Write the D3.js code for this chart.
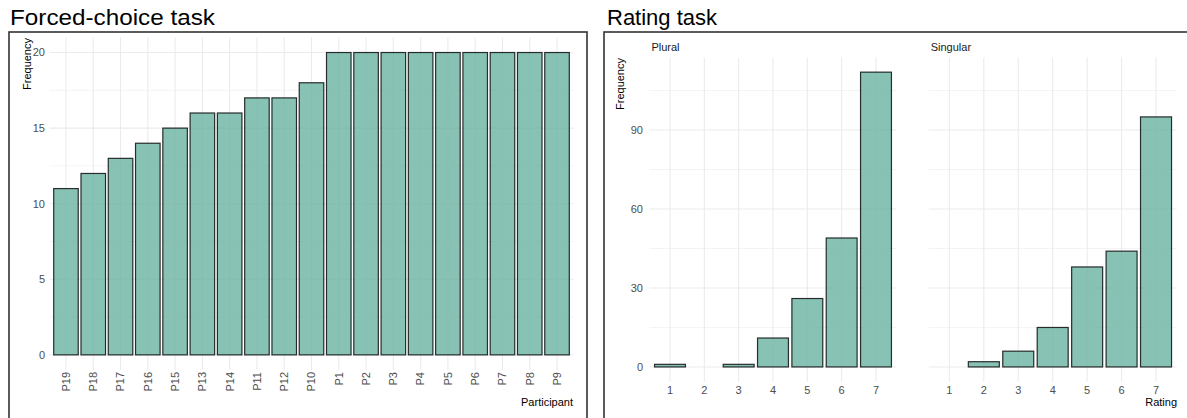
<!DOCTYPE html>
<html lang="en">
<head>
	<meta charset="UTF-8">
	<title>Forced-choice and rating task</title>
	<style>
		body{margin:0;background:#fff;}
		text{font-family:"Liberation Sans", Arial, sans-serif;}
		.grid line{stroke:#ebebeb;}
		.bar{fill:#69b3a2;fill-opacity:0.8;stroke:#000;stroke-opacity:0.8;stroke-width:1.2px;}
		.tick-lab{font-size:11px;fill:#4d4d4d;}
		.ax-title{font-size:11px;fill:#000;}
		.title{font-size:22px;fill:#000;}
		.strip{font-size:11px;fill:#1a1a1a;}
	</style>
</head>
<body>
<script src="https://d3js.org/d3.v7.min.js"></script>
<script>
	// forced-choice task
	var participants = ['P19','P18','P17','P16','P15','P13','P14','P11','P12','P10','P1','P2','P3','P4','P5','P6','P7','P8','P9'];
	var counts = [11,12,13,14,15,16,16,17,17,18,20,20,20,20,20,20,20,20,20];
	var fcTicks = [0,5,10,15,20];

	// rating task
	var ratings = [1,2,3,4,5,6,7];
	var plural = [1,0,1,11,26,49,112];
	var singular = [0,2,6,15,38,44,95];
	var facets = ['Plural','Singular'];
	var rtTicks = [0,30,60,90];

	var svg = d3.select('body').append('svg')
		.attr('width',1187)
		.attr('height',418);

	// frames + titles
	svg.append('rect').attr('x',9).attr('y',32).attr('width',578).attr('height',400)
		.attr('fill','none').attr('stroke','#333').attr('stroke-width',1.6);
	svg.append('rect').attr('x',604).attr('y',32).attr('width',600).attr('height',400)
		.attr('fill','none').attr('stroke','#333').attr('stroke-width',1.6);
	svg.append('text').attr('class','title').attr('x',10).attr('y',25)
		.attr('textLength',205).attr('lengthAdjust','spacingAndGlyphs').text('Forced-choice task');
	svg.append('text').attr('class','title').attr('x',607).attr('y',25).text('Rating task');

	// ---- left panel ----
	var x1 = d3.scalePoint().domain(participants).range([49.6,573.4]).padding(0.6);
	var y1 = d3.scaleLinear().domain([-1,21]).range([370,37.4]);
	var bw1 = x1.step()*0.9;

	var g1 = svg.append('g');
	var grid1 = g1.append('g').attr('class','grid');
	grid1.selectAll('.minor').data([2.5,7.5,12.5,17.5]).enter().append('line')
		.attr('x1',49.6).attr('x2',573.4).attr('y1',d=>y1(d)).attr('y2',d=>y1(d))
		.style('stroke-width',0.6);
	grid1.selectAll('.major').data(fcTicks).enter().append('line')
		.attr('x1',49.6).attr('x2',573.4).attr('y1',d=>y1(d)).attr('y2',d=>y1(d))
		.style('stroke-width',1.1);
	grid1.selectAll('.vx').data(participants).enter().append('line')
		.attr('x1',d=>x1(d)).attr('x2',d=>x1(d)).attr('y1',37.4).attr('y2',370)
		.style('stroke-width',1.1);

	g1.selectAll('rect.bar').data(participants).enter().append('rect')
		.attr('class','bar')
		.attr('x',d=>x1(d)-bw1/2)
		.attr('width',bw1)
		.attr('y',(d,i)=>y1(counts[i]))
		.attr('height',(d,i)=>y1(0)-y1(counts[i]));

	g1.selectAll('.ylab').data(fcTicks).enter().append('text')
		.attr('class','tick-lab').attr('x',45).attr('y',d=>y1(d)).attr('dy','0.35em')
		.attr('text-anchor','end').text(d=>d);
	g1.selectAll('.xlab').data(participants).enter().append('text')
		.attr('class','tick-lab').attr('text-anchor','end').attr('dy','0.35em')
		.attr('transform',d=>'translate('+x1(d)+',372) rotate(-90)').text(d=>d);
	g1.append('text').attr('class','ax-title').attr('text-anchor','end').attr('dy','0.35em')
		.attr('transform','translate(27,38) rotate(-90)').text('Frequency');
	g1.append('text').attr('class','ax-title').attr('text-anchor','end')
		.attr('x',573).attr('y',406).text('Participant');

	// ---- right panels ----
	var y2 = d3.scaleLinear().domain([-5.6,117.6]).range([381.7,57.4]);
	var ranges = [[649.4,896.6],[928.7,1176.7]];
	var values = [plural, singular];

	facets.forEach(function(f,k){
		var x2 = d3.scaleLinear().domain([0.4,7.6]).range(ranges[k]);
		var bw2 = (x2(1)-x2(0))*0.9;
		var g = svg.append('g');
		var grid = g.append('g').attr('class','grid');
		grid.selectAll('.minor').data([15,45,75,105]).enter().append('line')
			.attr('x1',ranges[k][0]).attr('x2',ranges[k][1]).attr('y1',d=>y2(d)).attr('y2',d=>y2(d))
			.style('stroke-width',0.6);
		grid.selectAll('.major').data(rtTicks).enter().append('line')
			.attr('x1',ranges[k][0]).attr('x2',ranges[k][1]).attr('y1',d=>y2(d)).attr('y2',d=>y2(d))
			.style('stroke-width',1.1);
		grid.selectAll('.vx').data(ratings).enter().append('line')
			.attr('x1',d=>x2(d)).attr('x2',d=>x2(d)).attr('y1',57.4).attr('y2',381.7)
			.style('stroke-width',1.1);

		g.selectAll('rect.bar').data(ratings.filter((r,i)=>values[k][i]>0)).enter().append('rect')
			.attr('class','bar')
			.attr('x',d=>x2(d)-bw2/2)
			.attr('width',bw2)
			.attr('y',d=>y2(values[k][d-1]))
			.attr('height',d=>y2(0)-y2(values[k][d-1]));

		g.selectAll('.xlab').data(ratings).enter().append('text')
			.attr('class','tick-lab').attr('text-anchor','middle')
			.attr('x',d=>x2(d)).attr('y',390).attr('dy','0.35em').text(d=>d);
		g.append('text').attr('class','strip').attr('x',ranges[k][0]+2).attr('y',51).text(f);
	});

	svg.selectAll('.ylab2').data(rtTicks).enter().append('text')
		.attr('class','tick-lab').attr('x',643).attr('y',d=>y2(d)).attr('dy','0.35em')
		.attr('text-anchor','end').text(d=>d);
	svg.append('text').attr('class','ax-title').attr('text-anchor','end').attr('dy','0.35em')
		.attr('transform','translate(620,58) rotate(-90)').text('Frequency');
	svg.append('text').attr('class','ax-title').attr('text-anchor','end')
		.attr('x',1177).attr('y',406).text('Rating');
</script>
</body>
</html>
